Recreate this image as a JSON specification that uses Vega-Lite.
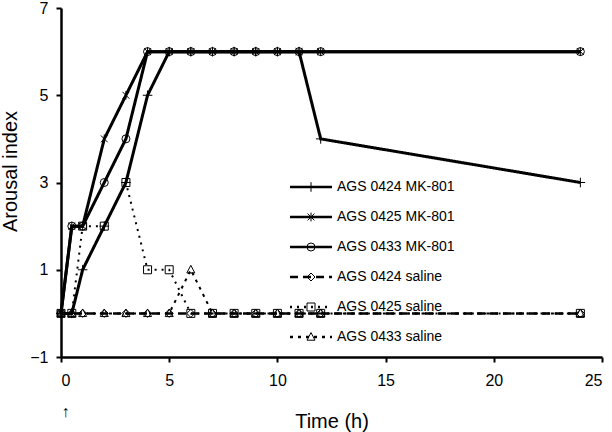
{
  "$schema": "https://vega.github.io/schema/vega-lite/v6.json",
  "width": 541,
  "height": 349,
  "autosize": "none",
  "padding": {"left": 61, "top": 8, "right": 10, "bottom": 75},
  "background": "white",
  "config": {
    "view": {"stroke": null},
    "font": "Liberation Sans",
    "axis": {"grid": false, "domainColor": "black", "domainWidth": 2.5, "tickColor": "black", "tickWidth": 2, "tickSize": 5, "labelColor": "black", "titleColor": "black", "labelFont": "Liberation Sans, DejaVu Sans", "titleFont": "Liberation Sans", "labelFontSize": 16, "titleFontSize": 20, "titleFontWeight": "normal"}
  },
  "data": {"values": [
    {"series": "AGS 0424 MK-801", "time": 0, "value": 0},
    {"series": "AGS 0424 MK-801", "time": 0.5, "value": 0},
    {"series": "AGS 0424 MK-801", "time": 1, "value": 1},
    {"series": "AGS 0424 MK-801", "time": 2, "value": 2},
    {"series": "AGS 0424 MK-801", "time": 3, "value": 3},
    {"series": "AGS 0424 MK-801", "time": 4, "value": 5},
    {"series": "AGS 0424 MK-801", "time": 5, "value": 6},
    {"series": "AGS 0424 MK-801", "time": 6, "value": 6},
    {"series": "AGS 0424 MK-801", "time": 7, "value": 6},
    {"series": "AGS 0424 MK-801", "time": 8, "value": 6},
    {"series": "AGS 0424 MK-801", "time": 9, "value": 6},
    {"series": "AGS 0424 MK-801", "time": 10, "value": 6},
    {"series": "AGS 0424 MK-801", "time": 11, "value": 6},
    {"series": "AGS 0424 MK-801", "time": 12, "value": 4},
    {"series": "AGS 0424 MK-801", "time": 24, "value": 3},
    {"series": "AGS 0425 MK-801", "time": 0, "value": 0},
    {"series": "AGS 0425 MK-801", "time": 0.5, "value": 2},
    {"series": "AGS 0425 MK-801", "time": 1, "value": 2},
    {"series": "AGS 0425 MK-801", "time": 2, "value": 4},
    {"series": "AGS 0425 MK-801", "time": 3, "value": 5},
    {"series": "AGS 0425 MK-801", "time": 4, "value": 6},
    {"series": "AGS 0425 MK-801", "time": 5, "value": 6},
    {"series": "AGS 0425 MK-801", "time": 6, "value": 6},
    {"series": "AGS 0425 MK-801", "time": 7, "value": 6},
    {"series": "AGS 0425 MK-801", "time": 8, "value": 6},
    {"series": "AGS 0425 MK-801", "time": 9, "value": 6},
    {"series": "AGS 0425 MK-801", "time": 10, "value": 6},
    {"series": "AGS 0425 MK-801", "time": 11, "value": 6},
    {"series": "AGS 0425 MK-801", "time": 12, "value": 6},
    {"series": "AGS 0425 MK-801", "time": 24, "value": 6},
    {"series": "AGS 0433 MK-801", "time": 0, "value": 0},
    {"series": "AGS 0433 MK-801", "time": 0.5, "value": 2},
    {"series": "AGS 0433 MK-801", "time": 1, "value": 2},
    {"series": "AGS 0433 MK-801", "time": 2, "value": 3},
    {"series": "AGS 0433 MK-801", "time": 3, "value": 4},
    {"series": "AGS 0433 MK-801", "time": 4, "value": 6},
    {"series": "AGS 0433 MK-801", "time": 5, "value": 6},
    {"series": "AGS 0433 MK-801", "time": 6, "value": 6},
    {"series": "AGS 0433 MK-801", "time": 7, "value": 6},
    {"series": "AGS 0433 MK-801", "time": 8, "value": 6},
    {"series": "AGS 0433 MK-801", "time": 9, "value": 6},
    {"series": "AGS 0433 MK-801", "time": 10, "value": 6},
    {"series": "AGS 0433 MK-801", "time": 11, "value": 6},
    {"series": "AGS 0433 MK-801", "time": 12, "value": 6},
    {"series": "AGS 0433 MK-801", "time": 24, "value": 6},
    {"series": "AGS 0424 saline", "time": 0, "value": 0},
    {"series": "AGS 0424 saline", "time": 0.5, "value": 0},
    {"series": "AGS 0424 saline", "time": 1, "value": 0},
    {"series": "AGS 0424 saline", "time": 2, "value": 0},
    {"series": "AGS 0424 saline", "time": 3, "value": 0},
    {"series": "AGS 0424 saline", "time": 4, "value": 0},
    {"series": "AGS 0424 saline", "time": 5, "value": 0},
    {"series": "AGS 0424 saline", "time": 6, "value": 0},
    {"series": "AGS 0424 saline", "time": 7, "value": 0},
    {"series": "AGS 0424 saline", "time": 8, "value": 0},
    {"series": "AGS 0424 saline", "time": 9, "value": 0},
    {"series": "AGS 0424 saline", "time": 10, "value": 0},
    {"series": "AGS 0424 saline", "time": 11, "value": 0},
    {"series": "AGS 0424 saline", "time": 12, "value": 0},
    {"series": "AGS 0424 saline", "time": 24, "value": 0},
    {"series": "AGS 0425 saline", "time": 0, "value": 0},
    {"series": "AGS 0425 saline", "time": 0.5, "value": 0},
    {"series": "AGS 0425 saline", "time": 1, "value": 2},
    {"series": "AGS 0425 saline", "time": 2, "value": 2},
    {"series": "AGS 0425 saline", "time": 3, "value": 3},
    {"series": "AGS 0425 saline", "time": 4, "value": 1},
    {"series": "AGS 0425 saline", "time": 5, "value": 1},
    {"series": "AGS 0425 saline", "time": 6, "value": 0},
    {"series": "AGS 0425 saline", "time": 7, "value": 0},
    {"series": "AGS 0425 saline", "time": 8, "value": 0},
    {"series": "AGS 0425 saline", "time": 9, "value": 0},
    {"series": "AGS 0425 saline", "time": 10, "value": 0},
    {"series": "AGS 0425 saline", "time": 11, "value": 0},
    {"series": "AGS 0425 saline", "time": 12, "value": 0},
    {"series": "AGS 0425 saline", "time": 24, "value": 0},
    {"series": "AGS 0433 saline", "time": 0, "value": 0},
    {"series": "AGS 0433 saline", "time": 0.5, "value": 0},
    {"series": "AGS 0433 saline", "time": 1, "value": 0},
    {"series": "AGS 0433 saline", "time": 2, "value": 0},
    {"series": "AGS 0433 saline", "time": 3, "value": 0},
    {"series": "AGS 0433 saline", "time": 4, "value": 0},
    {"series": "AGS 0433 saline", "time": 5, "value": 0},
    {"series": "AGS 0433 saline", "time": 6, "value": 1},
    {"series": "AGS 0433 saline", "time": 7, "value": 0},
    {"series": "AGS 0433 saline", "time": 8, "value": 0},
    {"series": "AGS 0433 saline", "time": 9, "value": 0},
    {"series": "AGS 0433 saline", "time": 10, "value": 0},
    {"series": "AGS 0433 saline", "time": 11, "value": 0},
    {"series": "AGS 0433 saline", "time": 12, "value": 0},
    {"series": "AGS 0433 saline", "time": 24, "value": 0}
  ]},
  "encoding": {
    "x": {"field": "time", "type": "quantitative", "scale": {"domain": [0, 25], "nice": false, "zero": false},
      "axis": {"title": "Time (h)", "values": [0, 5, 10, 15, 20, 25], "labelPadding": 10, "labelLineHeight": 31, "labelExpr": "datum.value == 0 ? ['0', '↑'] : datum.label", "titleY": 70, "titleBaseline": "alphabetic"}},
    "y": {"field": "value", "type": "quantitative", "scale": {"domain": [-1, 7], "nice": false, "zero": false},
      "axis": {"title": "Arousal index", "values": [-1, 1, 3, 5, 7], "labelPadding": 8, "titleX": -45, "titleY": 163, "titleBaseline": "alphabetic", "titleAlign": "center"}}
  },
  "layer": [
    {
      "mark": {"type": "line", "color": "black"},
      "encoding": {
        "detail": {"field": "series"},
        "strokeDash": {"field": "series", "type": "nominal",
          "scale": {"domain": ["AGS 0433 saline", "AGS 0425 saline", "AGS 0424 saline", "AGS 0433 MK-801", "AGS 0425 MK-801", "AGS 0424 MK-801"],
            "range": [[3, 5], [2, 5], [8, 5], [1, 0], [1, 0], [1, 0]]},
          "legend": {
            "title": null, "orient": "none", "legendX": 227.5, "legendY": 156.5, "padding": 0,
            "values": ["AGS 0424 MK-801", "AGS 0425 MK-801", "AGS 0433 MK-801", "AGS 0424 saline", "AGS 0425 saline", "AGS 0433 saline"],
            "symbolType": "stroke", "symbolSize": 1764, "symbolStrokeWidth": 2.5, "symbolStrokeColor": "black",
            "labelOffset": 3.5, "labelFontSize": 14, "labelFont": "Liberation Sans", "labelColor": "black", "rowPadding": -35, "labelLimit": 300
          }},
        "strokeWidth": {"condition": [
          {"test": "indexof(datum.series, 'MK') >= 0", "value": 3},
          {"test": "datum.series === 'AGS 0424 saline'", "value": 2.5}
        ], "value": 2}
      }
    },
    {
      "mark": {"type": "point", "filled": false, "stroke": "black", "strokeWidth": 1, "size": 64, "opacity": 1},
      "encoding": {
        "shape": {"field": "series", "type": "nominal",
          "scale": {"domain": ["AGS 0424 MK-801", "AGS 0425 MK-801", "AGS 0433 MK-801", "AGS 0424 saline", "AGS 0425 saline", "AGS 0433 saline"],
            "range": ["M-1.2,0L1.2,0M0,-1.2L0,1.2", "M-0.85,-0.85L0.85,0.85M-0.85,0.85L0.85,-0.85M0,-1.1L0,1.1", "circle", "M0,-1L1,0L0,1L-1,0Z", "M-1,-1L1,-1L1,1L-1,1Z", "M0,-1.1L1,0.8L-1,0.8Z"]},
          "legend": {
            "title": null, "orient": "none", "legendX": 243, "legendY": 172, "padding": 0,
            "symbolSize": 64, "symbolStrokeWidth": 1, "symbolStrokeColor": "black", "symbolFillColor": "white",
            "labelExpr": "' '", "labelOffset": 3, "labelFontSize": 14, "labelFont": "Liberation Sans", "rowPadding": 16
          }}
      }
    }
  ]
}
